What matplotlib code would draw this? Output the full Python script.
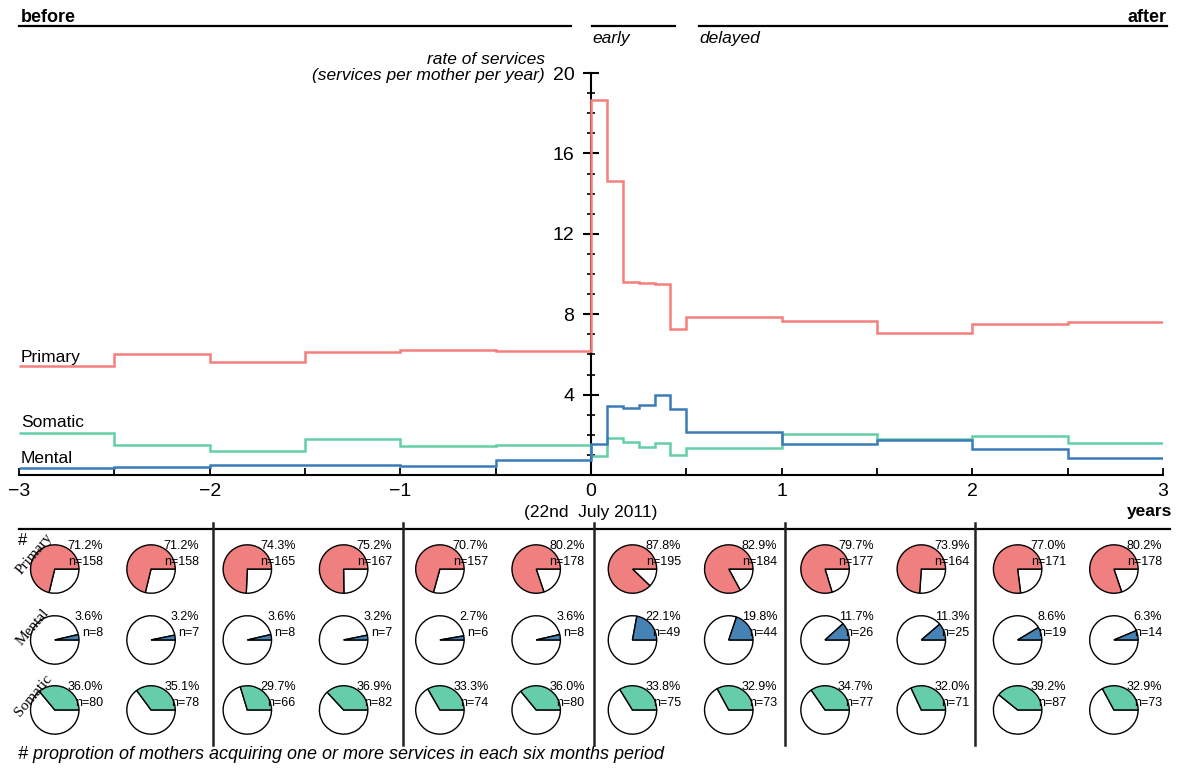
import matplotlib.pyplot as plt
from matplotlib.patches import Wedge
from matplotlib.ticker import MultipleLocator, FixedLocator
import numpy as np

plt.rcParams['font.family'] = ['Liberation Sans', 'DejaVu Sans']

# rate of services, step edges in years relative to 22nd July 2011
edges = [-3, -2.5, -2, -1.5, -1, -0.5, 0,
         1/12, 2/12, 3/12, 4/12, 5/12, 0.5, 1, 1.5, 2, 2.5, 3]
primary = [5.43, 6.01, 5.61, 6.10, 6.21, 6.15,
           18.67, 14.65, 9.62, 9.57, 9.48, 7.24, 7.88, 7.66, 7.06, 7.52, 7.59]
somatic = [2.11, 1.50, 1.20, 1.78, 1.45, 1.48,
           0.95, 1.86, 1.66, 1.38, 1.58, 1.00, 1.35, 2.06, 1.81, 1.94, 1.58]
mental = [0.33, 0.42, 0.50, 0.48, 0.45, 0.73,
          1.54, 3.41, 3.32, 3.49, 3.99, 3.27, 2.15, 1.53, 1.73, 1.28, 0.85]

# proportion of mothers per six month period
periods = np.arange(-3, 3, 0.5) + 0.25
primary_pct = [71.2, 71.2, 74.3, 75.2, 70.7, 80.2, 87.8, 82.9, 79.7, 73.9, 77.0, 80.2]
primary_n = [158, 158, 165, 167, 157, 178, 195, 184, 177, 164, 171, 178]
mental_pct = [3.6, 3.2, 3.6, 3.2, 2.7, 3.6, 22.1, 19.8, 11.7, 11.3, 8.6, 6.3]
mental_n = [8, 7, 8, 7, 6, 8, 49, 44, 26, 25, 19, 14]
somatic_pct = [36.0, 35.1, 29.7, 36.9, 33.3, 36.0, 33.8, 32.9, 34.7, 32.0, 39.2, 32.9]
somatic_n = [80, 78, 66, 82, 74, 80, 75, 73, 77, 71, 87, 73]

c_red = '#f47f7c'
c_green = '#62d0a6'
c_blue = '#3b7bb8'
p_red = '#f08080'
p_green = '#66cdaa'
p_blue = '#4682b4'

W, H = 1177, 770
fig = plt.figure(figsize=(W/100, H/100), dpi=100)
ax = fig.add_axes([19/W, (H-475)/H, 1144/W, (475-73)/H])
ax.set_xlim(-3, 3)
ax.set_ylim(0, 20)

ax.stairs(primary, edges, baseline=None, color=c_red, lw=1.8, zorder=3)
ax.stairs(somatic, edges, baseline=None, color=c_green, lw=1.8, zorder=3)
ax.stairs(mental, edges, baseline=None, color=c_blue, lw=1.8, zorder=3)

for s in ['top', 'right']:
    ax.spines[s].set_visible(False)
ax.spines['left'].set_position(('data', 0))
ax.spines['left'].set_linewidth(1.5)
ax.spines['bottom'].set_linewidth(1.5)

ax.yaxis.set_major_locator(FixedLocator([4, 8, 12, 16, 20]))
ax.yaxis.set_minor_locator(MultipleLocator(1))
ax.xaxis.set_major_locator(MultipleLocator(1))
ax.xaxis.set_minor_locator(MultipleLocator(0.5))
ax.tick_params(axis='y', which='major', direction='inout', length=12, width=1.5,
               labelsize=14, pad=6)
ax.tick_params(axis='y', which='minor', direction='inout', length=6, width=1.2)
ax.tick_params(axis='x', which='both', direction='in', length=5, width=1.3,
               labelsize=14, pad=6)

xt = ax.get_xaxis_transform()
ax.text(0, -0.0945, '(22nd  July 2011)', transform=xt, ha='center', va='center', fontsize=12.5)
ax.text(3.047, -0.0896, 'years', transform=xt, ha='right', va='center',
        fontsize=12.5, fontweight='bold')

ax.text(-0.241, 1.014, 'rate of services\n(services per mother per year)', transform=xt,
        ha='right', va='center', fontsize=12.5, style='italic', linespacing=1.1)

# period headers
for x0, x1 in [(-3, -0.105), (0.005, 0.44), (0.567, 3.02)]:
    ax.plot([x0, x1], [1.117, 1.117], transform=xt, color='k', lw=1.6, clip_on=False)
ax.text(-2.99, 1.139, 'before', transform=xt, ha='left', va='center',
        fontsize=13, fontweight='bold')
ax.text(3.016, 1.139, 'after', transform=xt, ha='right', va='center',
        fontsize=13, fontweight='bold')
ax.text(0.005, 1.085, 'early', transform=xt, ha='left', va='center',
        fontsize=12.5, style='italic')
ax.text(0.566, 1.085, 'delayed', transform=xt, ha='left', va='center',
        fontsize=12.5, style='italic')

ax.text(-2.99, 5.85, 'Primary', ha='left', va='center', fontsize=12.5)
ax.text(-2.99, 2.59, 'Somatic', ha='left', va='center', fontsize=12.5)
ax.text(-2.99, 0.80, 'Mental', ha='left', va='center', fontsize=12.5)

# pie panel below, same x scale and equal aspect
pax = fig.add_axes([19/W, 0, 1144/W, 250/H])
pax.set_xlim(-3, 3)
pax.set_ylim(0, 6 * 250 / 1144)
pax.axis('off')

pax.plot([-3, 3.037], [1.264, 1.264], color='k', lw=1.6, clip_on=False)
for k in range(-2, 3):
    pax.plot([k + 0.015, k + 0.015], [0.131, 1.295], color='#222222', lw=1.8, clip_on=False)

r = 0.127
rows = [(1.054, primary_pct, primary_n, p_red),
        (0.682, mental_pct, mental_n, p_blue),
        (0.315, somatic_pct, somatic_n, p_green)]
pie_x = 1.01 * periods - 0.035
for yc, pcts, ns, col in rows:
    for xc, p, n in zip(pie_x, pcts, ns):
        a = 360 * p / 100
        pax.add_patch(Wedge((xc, yc), r, a, 360, facecolor='white',
                            edgecolor='black', lw=1.0))
        pax.add_patch(Wedge((xc, yc), r, 0, a, facecolor=col,
                            edgecolor='black', lw=1.0))
        pax.text(xc + 0.254, yc + 0.105, '%.1f%%' % p, ha='right', va='baseline', fontsize=9)
        pax.text(xc + 0.254, yc + 0.0225, 'n=%d' % n, ha='right', va='baseline', fontsize=9)

serif = ['Liberation Serif', 'DejaVu Serif']
pax.text(-3.005, 1.204, '#', ha='left', va='center', fontsize=12)
pax.text(-2.921, 1.133, 'Primary', family=serif, rotation=50, ha='center', va='center', fontsize=11)
pax.text(-2.929, 0.750, 'Mental', family=serif, rotation=50, ha='center', va='center', fontsize=11)
pax.text(-2.924, 0.388, 'Somatic', family=serif, rotation=50, ha='center', va='center', fontsize=11)

pax.text(-3.005, 0.079, '# proprotion of mothers acquiring one or more services in each six months period',
         ha='left', va='center', fontsize=13, style='italic')

fig.savefig('out.png', dpi=100)
